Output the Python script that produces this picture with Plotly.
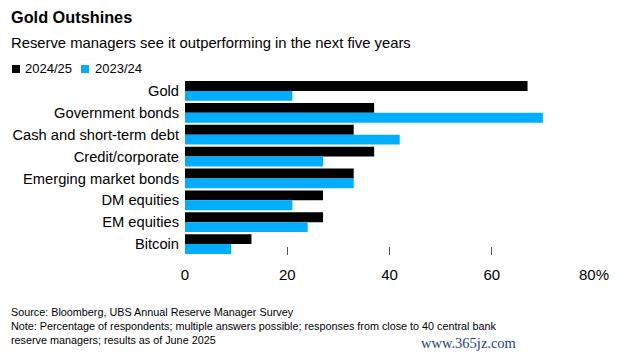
import plotly.graph_objects as go

categories = ["Gold", "Government bonds", "Cash and short-term debt", "Credit/corporate",
              "Emerging market bonds", "DM equities", "EM equities", "Bitcoin"]
values_2425 = [67, 37, 33, 37, 33, 27, 27, 13]
values_2324 = [21, 70, 42, 27, 33, 21, 24, 9]
series_names = ["2024/25", "2023/24"]
tick_vals = [0, 20, 40, 60, 80]
tick_text = ["0", "20", "40", "60", "80%"]

W, H = 628, 359
L, R, T, B = 185, 594, 80, 255
COL_A = "#000000"
COL_B = "#00ADFF"
FONT = "Liberation Sans, Arial, sans-serif"


def px(x):
    return (x - L) / (R - L)


def py(y):
    return (B - y) / (B - T)


fig = go.Figure()
fig.add_trace(go.Bar(y=categories, x=values_2425, orientation="h", name=series_names[0],
                     marker=dict(color=COL_A, line=dict(width=0)), showlegend=False))
fig.add_trace(go.Bar(y=categories, x=values_2324, orientation="h", name=series_names[1],
                     marker=dict(color=COL_B, line=dict(width=0)), showlegend=False))

annotations = [
    dict(text="<b>Gold Outshines</b>", x=px(9), y=py(17), font=dict(size=16.3, color="#000", family=FONT)),
    dict(text="Reserve managers see it outperforming in the next five years", x=px(9), y=py(43.5),
         font=dict(size=14.8, color="#000", family=FONT)),
    dict(text=series_names[0], x=px(23), y=py(69), font=dict(size=13, color="#000", family=FONT)),
    dict(text=series_names[1], x=px(93), y=py(69), font=dict(size=13, color="#000", family=FONT)),
    dict(text="Source: Bloomberg, UBS Annual Reserve Manager Survey", x=px(9), y=py(312),
         font=dict(size=10.8, color="#000", family=FONT)),
    dict(text="Note: Percentage of respondents; multiple answers possible; responses from close to 40 central bank",
         x=px(9), y=py(326), font=dict(size=10.8, color="#000", family=FONT)),
    dict(text="reserve managers; results as of June 2025", x=px(9), y=py(340),
         font=dict(size=10.8, color="#000", family=FONT)),
    dict(text="www.365jz.com", x=px(419), y=py(343),
         font=dict(size=14.5, color="#1d3f78", family="Liberation Serif, serif")),
]
for a in annotations:
    a.update(xref="paper", yref="paper", xanchor="left", yanchor="middle", showarrow=False)

shapes = [
    dict(type="rect", xref="paper", yref="paper", x0=px(12), x1=px(20), y0=py(65), y1=py(73),
         fillcolor=COL_A, line=dict(width=0)),
    dict(type="rect", xref="paper", yref="paper", x0=px(81), x1=px(89), y0=py(65), y1=py(73),
         fillcolor=COL_B, line=dict(width=0)),
]

fig.update_layout(
    width=W, height=H,
    margin=dict(l=L, r=W - R, t=T, b=H - B, pad=0, autoexpand=False),
    paper_bgcolor="white", plot_bgcolor="white",
    barmode="group", bargap=0.1, bargroupgap=0,
    annotations=annotations, shapes=shapes,
    font=dict(family=FONT, color="#000"),
)
fig.update_xaxes(range=[0, 80], tickvals=tick_vals, ticktext=tick_text, ticks="inside",
                 ticklen=8, tickwidth=1, tickcolor="#555", showgrid=False, zeroline=False,
                 showline=False, tickfont=dict(size=15, color="#000", family=FONT),
                 ticklabelstandoff=9, automargin=False, fixedrange=True)
fig.update_yaxes(autorange="reversed", ticks="", showgrid=False, zeroline=False, showline=False,
                 tickfont=dict(size=14.7, color="#000", family=FONT), ticklabelstandoff=5,
                 automargin=False, fixedrange=True)

fig.write_html("out.html", config={"displayModeBar": False},
               post_script="document.body.style.margin='0';document.body.style.overflow='hidden';")
